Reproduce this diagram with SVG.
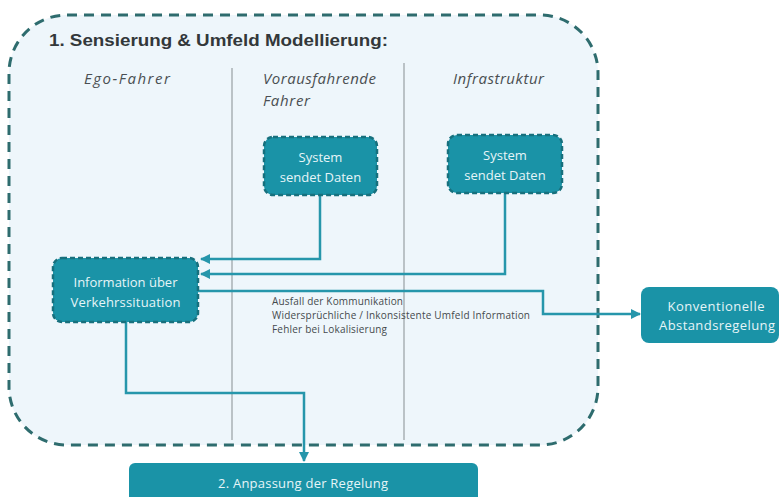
<svg xmlns="http://www.w3.org/2000/svg" width="781" height="497" viewBox="0 0 781 497">
  <defs>
    <marker id="arrow" viewBox="0 0 10 10" refX="9" refY="5" markerWidth="4" markerHeight="4" orient="auto">
      <path d="M0,0 L10,5 L0,10 z" fill="#2696ab"/>
    </marker>
    <style>
      .title { font-family: "Liberation Sans", Arial, sans-serif; font-weight: bold; font-size: 17px; fill: #33383a; }
      .col { font-family: "Open Sans", "Liberation Sans", sans-serif; font-style: italic; font-size: 15px; fill: #4a4f52; }
      .node-dashed { fill: #1a93a7; stroke: #17707d; stroke-width: 2.5; stroke-dasharray: 5 3; }
      .node-solid { fill: #1a93a7; }
      .ntext { font-family: "Open Sans", "Liberation Sans", sans-serif; font-size: 13px; fill: #e6f5f8; text-anchor: middle; }
      .note { font-family: "Open Sans", "Liberation Sans", sans-serif; font-size: 10px; fill: #454a4d; }
      .sep { stroke: #a9b0b5; stroke-width: 1.5; }
      .conn { fill: none; stroke: #2696ab; stroke-width: 2.5; }
    </style>
  </defs>

  <rect width="781" height="497" fill="#ffffff"/>

  <!-- scope area: sensing & environment modelling -->
  <g id="scope">
    <rect x="9" y="15" width="589" height="430" rx="58" ry="58" fill="#eef6fb" stroke="#2e6c6e" stroke-width="3" stroke-dasharray="10 7"/>
    <text class="title" x="49" y="46" textLength="339" lengthAdjust="spacingAndGlyphs">1. Sensierung &amp; Umfeld Modellierung:</text>
    <line class="sep" x1="232" y1="68" x2="232" y2="440"/>
    <line class="sep" x1="404" y1="63" x2="404" y2="440"/>
    <text class="col" x="84" y="84" textLength="86">Ego-Fahrer</text>
    <text class="col" x="263" y="84" textLength="113">Vorausfahrende</text>
    <text class="col" x="263" y="106" textLength="47">Fahrer</text>
    <text class="col" x="453" y="84" textLength="91">Infrastruktur</text>
  </g>

  <!-- connectors -->
  <g id="connectors">
    <path class="conn" d="M320,195 V259 H201" marker-end="url(#arrow)"/>
    <path class="conn" d="M505,193 V274 H201" marker-end="url(#arrow)"/>
    <path class="conn" d="M198,291 H543 V314 H640" marker-end="url(#arrow)"/>
    <path class="conn" d="M126,322 V393 H304 V461" marker-end="url(#arrow)"/>
  </g>

  <g id="failure-notes">
    <text class="note" x="272" y="305" textLength="131">Ausfall der Kommunikation</text>
    <text class="note" x="272" y="319" textLength="258">Widersprüchliche / Inkonsistente Umfeld Information</text>
    <text class="note" x="272" y="333" textLength="115">Fehler bei Lokalisierung</text>
  </g>

  <g id="node-system-vorausfahrende">
    <rect class="node-dashed" x="264" y="137" width="113" height="58" rx="9"/>
    <text class="ntext" x="320.5" y="162">System</text>
    <text class="ntext" x="320.5" y="182">sendet Daten</text>
  </g>

  <g id="node-system-infrastruktur">
    <rect class="node-dashed" x="448" y="135" width="114" height="58" rx="9"/>
    <text class="ntext" x="505" y="160">System</text>
    <text class="ntext" x="505" y="180">sendet Daten</text>
  </g>

  <g id="node-information">
    <rect class="node-dashed" x="53" y="258" width="145" height="64" rx="9"/>
    <text class="ntext" x="125.5" y="287" textLength="104">Information über</text>
    <text class="ntext" x="125.5" y="307" textLength="110">Verkehrssituation</text>
  </g>

  <g id="node-konventionell">
    <rect class="node-solid" x="641" y="287" width="138" height="56" rx="8"/>
    <text class="ntext" x="716" y="311" textLength="97">Konventionelle</text>
    <text class="ntext" x="717" y="330" textLength="116">Abstandsregelung</text>
  </g>

  <g id="node-anpassung">
    <rect class="node-solid" x="129" y="463" width="349" height="50" rx="6"/>
    <text class="ntext" x="303" y="488" textLength="170">2. Anpassung der Regelung</text>
  </g>
</svg>
